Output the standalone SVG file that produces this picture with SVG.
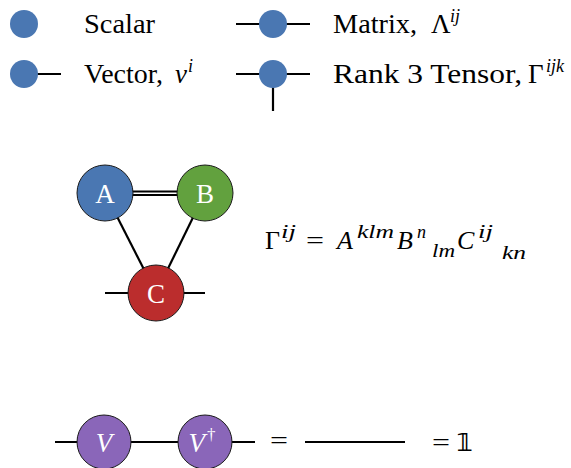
<svg xmlns="http://www.w3.org/2000/svg" width="571" height="468" viewBox="0 0 571 468">
<style>
.t{font-family:'Liberation Serif',serif;font-size:27px;fill:#000}
.eq{font-family:'Liberation Serif',serif;font-size:26px;fill:#000}
.e{stroke:#000;stroke-width:2.2;fill:none}
.n{stroke:#1a1a1a;stroke-width:1}
.lbl{font-family:'Liberation Serif',serif;font-size:27px;fill:#fff;text-anchor:middle}
.blue{fill:#4a77b2}
</style>
<rect width="571" height="468" fill="#fff"/>
<g id="connectors">
  <line class="e" x1="24" y1="74" x2="61" y2="74"/>
  <line class="e" x1="236" y1="24" x2="310" y2="24"/>
  <line class="e" x1="236" y1="74" x2="310" y2="74"/>
  <line class="e" x1="273" y1="74" x2="273" y2="111"/>
  <line class="e" x1="105" y1="191.5" x2="205" y2="191.5" stroke-width="1.6"/>
  <line class="e" x1="105" y1="195" x2="205" y2="195" stroke-width="1.6"/>
  <line class="e" x1="105" y1="193" x2="156" y2="293"/>
  <line class="e" x1="205" y1="193" x2="156" y2="293"/>
  <line class="e" x1="105" y1="293" x2="205" y2="293"/>
  <line class="e" x1="55" y1="442" x2="255" y2="442"/>
  <line class="e" x1="305" y1="442" x2="405" y2="442"/>
</g>
<g id="legend-scalar">
  <circle class="blue" cx="24" cy="24" r="14"/>
  <text class="t" x="84" y="33" textLength="71" lengthAdjust="spacingAndGlyphs">Scalar</text>
</g>
<g id="legend-vector">
  <circle class="blue" cx="24" cy="74" r="14"/>
  <text class="t" x="84" y="83" textLength="79" lengthAdjust="spacingAndGlyphs">Vector,</text>
  <text x="175" y="83" font-family="Liberation Serif" font-style="italic" font-size="27">v</text>
  <text x="188" y="72" font-family="Liberation Serif" font-style="italic" font-size="18">i</text>
</g>
<g id="legend-matrix">
  <circle class="blue" cx="273" cy="24" r="14"/>
  <text class="t" x="333" y="33" textLength="84" lengthAdjust="spacingAndGlyphs">Matrix,</text>
  <text class="t" x="431" y="33">Λ</text>
  <text x="450" y="22" font-family="Liberation Serif" font-style="italic" font-size="18">ij</text>
</g>
<g id="legend-tensor">
  <circle class="blue" cx="273" cy="74" r="14"/>
  <text class="t" x="333" y="83" textLength="189" lengthAdjust="spacingAndGlyphs">Rank 3 Tensor,</text>
  <text class="t" x="528" y="83">Γ</text>
  <text x="546" y="72" font-family="Liberation Serif" font-style="italic" font-size="18">ijk</text>
</g>
<g id="node-A">
  <circle class="n" cx="105" cy="193" r="28" fill="#4a77b2"/>
  <text class="lbl" x="105" y="202.5">A</text>
</g>
<g id="node-B">
  <circle class="n" cx="205" cy="193" r="28" fill="#62a13e"/>
  <text class="lbl" x="205" y="202.5">B</text>
</g>
<g id="node-C">
  <circle class="n" cx="156" cy="293" r="28" fill="#bb2d2d"/>
  <text class="lbl" x="156" y="302.5">C</text>
</g>
<g id="equation" font-family="Liberation Serif" font-style="italic">
  <text class="eq" x="265" y="249" font-style="normal">Γ</text>
  <text x="281" y="238" font-size="18" textLength="15" lengthAdjust="spacingAndGlyphs">ij</text>
  <text class="eq" x="306" y="249" font-style="normal" textLength="18" lengthAdjust="spacingAndGlyphs">=</text>
  <text x="337" y="249" font-size="26">A</text>
  <text x="357" y="238" font-size="18" textLength="37" lengthAdjust="spacingAndGlyphs">klm</text>
  <text x="397" y="249" font-size="26">B</text>
  <text x="417" y="238" font-size="18">n</text>
  <text x="432" y="257" font-size="18" textLength="23" lengthAdjust="spacingAndGlyphs">lm</text>
  <text x="457" y="249" font-size="26">C</text>
  <text x="478" y="238" font-size="18" textLength="15" lengthAdjust="spacingAndGlyphs">ij</text>
  <text x="502" y="259" font-size="18" textLength="24" lengthAdjust="spacingAndGlyphs">kn</text>
</g>
<g id="node-V">
  <circle class="n" cx="104" cy="442" r="27" fill="#8a66b9"/>
  <text x="104" y="452" font-family="Liberation Serif" font-style="italic" font-size="27" fill="#fff" text-anchor="middle">V</text>
</g>
<g id="node-Vdag">
  <circle class="n" cx="205" cy="442" r="27" fill="#8a66b9"/>
  <text x="202" y="452" font-family="Liberation Serif" font-style="italic" font-size="27" fill="#fff" text-anchor="middle">V<tspan font-size="17" font-style="normal" dx="2" dy="-12">†</tspan></text>
</g>
<g id="identity">
  <text class="eq" x="270" y="449" textLength="18" lengthAdjust="spacingAndGlyphs">=</text>
  <text class="eq" x="432" y="451" textLength="18" lengthAdjust="spacingAndGlyphs">=</text>
  <text x="456" y="451" style="font-family:'DejaVu Sans',sans-serif;font-size:25px;font-weight:bold">𝟙</text>
</g>
</svg>
